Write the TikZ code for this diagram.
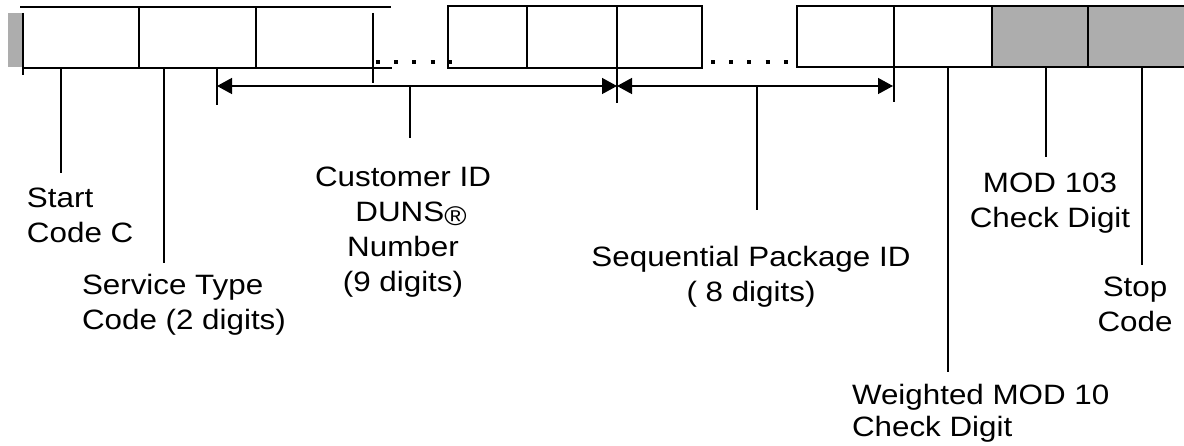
\documentclass[tikz,border=0pt]{standalone}
\usepackage{fontspec}
\setmainfont{Liberation Sans}[FakeStretch=1.12]
\usetikzlibrary{arrows.meta}
\begin{document}
\begin{tikzpicture}[x=1pt,y=-1pt,
  every node/.style={font=\fontsize{28}{35}\selectfont, inner sep=0pt, outer sep=0pt},
  border/.style={line width=2.6pt},
  divider/.style={line width=1.4pt},
  thickdiv/.style={line width=2.6pt},
  leader/.style={line width=1.4pt},
  shade/.style={fill=black!32},
  dotrow/.style={line width=4pt, dash pattern=on 4pt off 14.2pt},
  dim/.style={line width=1.4pt, {Triangle[length=15pt,width=16pt]}-{Triangle[length=15pt,width=16pt]}},
  lbl/.style={align=center, anchor=north},
  lbll/.style={align=left, anchor=north west}]
\useasboundingbox (0,0) rectangle (1184,446);

% ---------- left group ----------
\fill[shade] (8,13) rectangle (23,67);
\draw[border] (20,7) -- (391,7);
\draw[border] (23,68) -- (392,68);
\draw[divider] (23,13) -- (23,75);
\draw[divider] (139,7) -- (139,68);
\draw[divider] (256,7) -- (256,68);
\draw[thickdiv] (373,13) -- (373,83);
\draw[dotrow] (376,62) -- (452,62);

% ---------- middle group ----------
\draw[border] (448,6) rectangle (702,68);
\draw[divider] (527,6) -- (527,68);
\draw[thickdiv] (617,6) -- (617,103);
\draw[dotrow] (711,62) -- (790,62);

% ---------- right group ----------
\fill[shade] (992,6) rectangle (1184,67);
\draw[border] (1184,6) -- (797,6) -- (797,67) -- (1184,67);
\draw[thickdiv] (894,6) -- (894,102);
\draw[thickdiv] (992,6) -- (992,67);
\draw[thickdiv] (1088,6) -- (1088,67);

% ---------- dimension arrows ----------
\coordinate (a1) at (217,86);
\coordinate (a2) at (617,86);
\coordinate (a3) at (893,86);
\draw[leader] (217,68) -- (217,105);
\draw[dim] (a1) -- (a2);
\draw[dim] (a2) -- (a3);

% ---------- labels ----------
\node[lbll] (start) at (27,187.5) {Start\\Code C};
\node[lbll] (service) at (82,274.5) {Service Type\\Code (2 digits)};
\node[lbl] (customer) at (403,166.5) {Customer ID\\\hspace*{16pt}DUNS\raisebox{-4pt}{\fontsize{27}{27}\selectfont ®}\\Number\\(9 digits)};
\node[lbl] (seq) at (751,246.5) {Sequential Package ID\\( 8 digits)};
\node[lbll, font=\fontsize{28}{32}\selectfont] (weighted) at (852,384.5) {Weighted MOD 10\\Check Digit};
\node[lbl] (mod) at (1050,172.5) {MOD 103\\Check Digit};
\node[lbl] (stop) at (1135,276.5) {Stop\\Code};

% ---------- leaders ----------
\coordinate (startTop) at (61,68);
\coordinate (serviceTop) at (164,68);
\coordinate (custTop) at (410,86);
\coordinate (seqTop) at (757,86);
\coordinate (wTop) at (948,67);
\coordinate (modTop) at (1046,67);
\coordinate (stopTop) at (1142,67);
\draw[leader] (startTop) -- (61,173);
\draw[leader] (serviceTop) -- (164,263);
\draw[leader] (custTop) -- (410,138);
\draw[leader] (seqTop) -- (757,210);
\draw[leader] (wTop) -- (948,372);
\draw[leader] (modTop) -- (1046,157);
\draw[leader] (stopTop) -- (1142,265);
\end{tikzpicture}
\end{document}
